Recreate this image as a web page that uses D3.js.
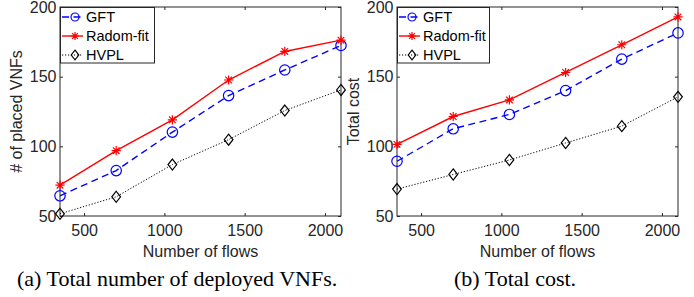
<!DOCTYPE html>
<html>
<head>
<meta charset="utf-8">
<script src="https://cdn.jsdelivr.net/npm/d3@7"></script>
<style>
  body { margin: 0; background: #fff; }
  svg { display: block; }
  .domain { display: none; }
  .tick line { stroke: #262626; }
</style>
</head>
<body>
<svg id="chart" width="694" height="297"></svg>
<script>
// shared x values and tick labels
const flows = [350, 700, 1050, 1400, 1750, 2100];
const xTicks = [500, 1000, 1500, 2000];
const yTicks = [50, 100, 150, 200];
const seriesNames = ['GFT', 'Radom-fit', 'HVPL'];

// (a) number of placed VNFs
const vnfGFT = [64.5, 82.6, 110.2, 136.4, 154.8, 172.4];
const vnfRadom = [72.1, 96.9, 119, 147.6, 168.1, 176.2];
const vnfHVPL = [51.6, 63.8, 86.9, 104.8, 125.7, 140.5];

// (b) total cost
const costGFT = [89.3, 112.6, 122.9, 140, 162.6, 181.4];
const costRadom = [101.4, 121.4, 133.3, 153, 172.9, 192.9];
const costHVPL = [69.3, 79.8, 90.2, 102.4, 114.5, 135.5];

const sansFont = "'Liberation Sans', Arial, sans-serif";
const axisColor = '#262626';

const styles = {
    'GFT': { color: '#0000ff', dash: '7,4.5', width: 1.4, marker: 'circle' },
    'Radom-fit': { color: '#ff0000', dash: null, width: 1.4, marker: 'star' },
    'HVPL': { color: '#000000', dash: '1.2,1.8', width: 1, marker: 'diamond' }
};

const svg = d3.select('#chart');

function drawMarker(g, type, cx, cy, r, color) {
    if (type === 'circle') {
        g.append('circle')
            .attr('cx', cx).attr('cy', cy).attr('r', r)
            .attr('fill', 'none').attr('stroke', color).attr('stroke-width', 1.2);
    } else if (type === 'diamond') {
        g.append('path')
            .attr('d', `M${cx},${cy - r * 1.2}L${cx + r * 0.95},${cy}L${cx},${cy + r * 1.2}L${cx - r * 0.95},${cy}Z`)
            .attr('fill', 'none').attr('stroke', color).attr('stroke-width', 1.2);
    } else {
        // asterisk like matlab '*'
        const d = r * 0.72;
        g.append('path')
            .attr('d', `M${cx - r},${cy}H${cx + r}M${cx},${cy - r}V${cy + r}` +
                `M${cx - d},${cy - d}L${cx + d},${cy + d}M${cx - d},${cy + d}L${cx + d},${cy - d}`)
            .attr('stroke', color).attr('stroke-width', 1.2);
    }
}

function styleTicks(sel) {
    sel.selectAll('text')
        .style('font-family', sansFont)
        .style('font-size', '16px')
        .style('fill', axisColor);
}

function drawPanel(opts) {
    const { left, width, top, height, data, yLabel, caption, captionX, legendW } = opts;
    const g = svg.append('g').attr('transform', `translate(${left},${top})`);

    const x = d3.scaleLinear().domain([350, 2100]).range([0, width]);
    const y = d3.scaleLinear().domain([50, 200]).range([height, 0]);

    // axes with inward ticks on every side
    g.append('g')
        .attr('transform', `translate(0,${height})`)
        .call(d3.axisBottom(x).tickValues(xTicks).tickSize(-3).tickPadding(9).tickFormat(d3.format('d')))
        .call(styleTicks);
    g.append('g')
        .call(d3.axisTop(x).tickValues(xTicks).tickSize(-3).tickFormat(''));
    g.append('g')
        .call(d3.axisLeft(y).tickValues(yTicks).tickSize(-3).tickPadding(3.5).tickFormat(d3.format('d')))
        .call(styleTicks);
    g.append('g')
        .attr('transform', `translate(${width},0)`)
        .call(d3.axisRight(y).tickValues(yTicks).tickSize(-3).tickFormat(''));

    g.append('rect')
        .attr('width', width).attr('height', height)
        .attr('fill', 'none').attr('stroke', axisColor).attr('stroke-width', 1);

    const line = d3.line()
        .x((d, i) => x(flows[i]))
        .y(d => y(d));

    seriesNames.forEach((name, si) => {
        const st = styles[name];
        g.append('path')
            .datum(data[si])
            .attr('d', line)
            .attr('fill', 'none')
            .attr('stroke', st.color)
            .attr('stroke-width', st.width)
            .attr('stroke-dasharray', st.dash);
        data[si].forEach((v, i) => {
            drawMarker(g, st.marker, x(flows[i]), y(v), st.marker === 'circle' ? 5.2 : 4.6, st.color);
        });
    });

    // legend in the top left corner
    const lg = g.append('g');
    lg.append('rect')
        .attr('x', 0.5).attr('y', 0.5)
        .attr('width', legendW).attr('height', 55.5)
        .attr('fill', '#fff').attr('stroke', axisColor).attr('stroke-width', 1);
    seriesNames.forEach((name, si) => {
        const st = styles[name];
        const ly = 10 + si * 19;
        lg.append('line')
            .attr('x1', 2).attr('x2', 23).attr('y1', ly).attr('y2', ly)
            .attr('stroke', st.color).attr('stroke-width', st.width)
            .attr('stroke-dasharray', st.dash);
        drawMarker(lg, st.marker, 15, ly, 4, st.color);
        lg.append('text')
            .attr('x', 26).attr('y', ly + 5.2)
            .style('font-family', sansFont)
            .style('font-size', '14.5px')
            .style('fill', '#000')
            .text(name);
    });

    // axis titles
    g.append('text')
        .attr('x', width / 2).attr('y', height + 40.5)
        .attr('text-anchor', 'middle')
        .style('font-family', sansFont)
        .style('font-size', '16px')
        .style('fill', axisColor)
        .text('Number of flows');
    g.append('text')
        .attr('transform', 'rotate(-90)')
        .attr('x', -height / 2).attr('y', opts.yLabelX)
        .attr('text-anchor', 'middle')
        .style('font-family', sansFont)
        .style('font-size', '16px')
        .style('fill', axisColor)
        .text(yLabel);

    // caption under the panel
    svg.append('text')
        .attr('x', captionX).attr('y', 286)
        .style('font-family', "'Liberation Serif', 'Times New Roman', serif")
        .style('font-size', '22px')
        .style('fill', '#000')
        .text(caption);
}

drawPanel({
    left: 60, width: 281, top: 7, height: 209, legendW: 94,
    data: [vnfGFT, vnfRadom, vnfHVPL],
    yLabel: '# of placed VNFs', yLabelX: -38,
    caption: '(a) Total number of deployed VNFs.', captionX: 17
});

drawPanel({
    left: 397, width: 281, top: 7, height: 209, legendW: 92,
    data: [costGFT, costRadom, costHVPL],
    yLabel: 'Total cost', yLabelX: -38,
    caption: '(b) Total cost.', captionX: 454
});
</script>
</body>
</html>
